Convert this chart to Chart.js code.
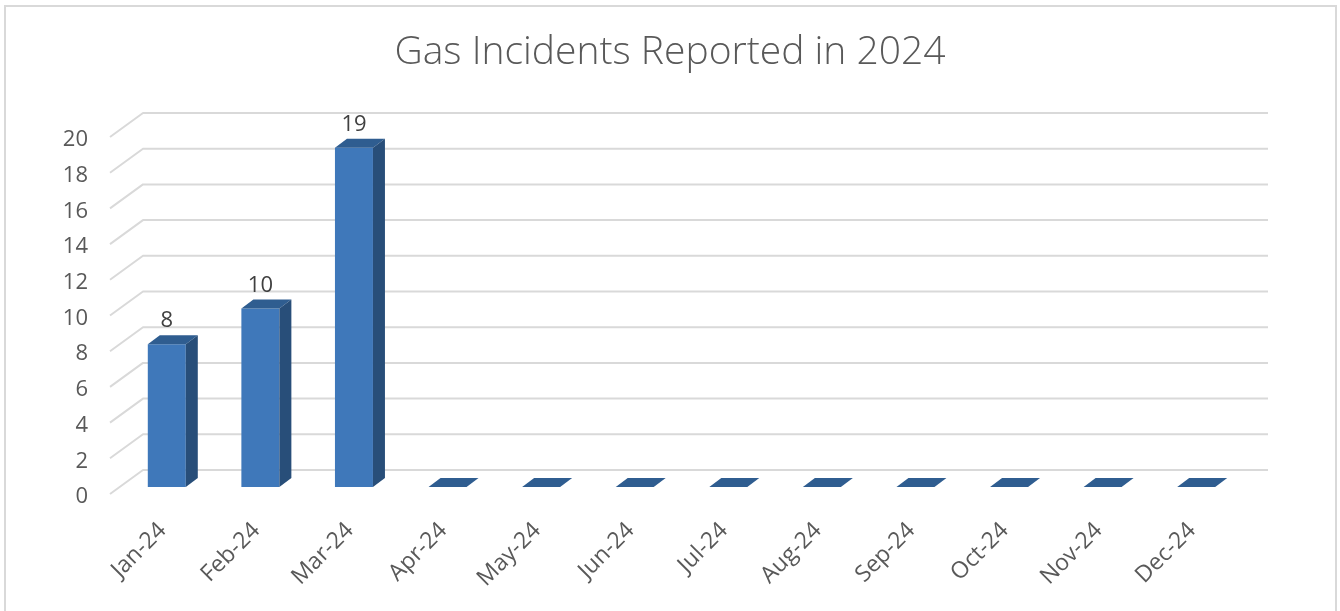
<!DOCTYPE html>
<html>
<head>
<meta charset="utf-8">
<script src="https://cdn.jsdelivr.net/npm/chart.js@4.4.1/dist/chart.umd.min.js"></script>
<style>
html,body{margin:0;padding:0;background:#fff;overflow:hidden;}
#frame{position:absolute;left:4px;top:5px;width:1333px;height:640px;border:2px solid #d9d9d9;box-sizing:border-box;}
#wrap{position:absolute;left:0;top:0;width:1340px;height:611px;}
</style>
</head>
<body>
<div id="frame"></div>
<div id="wrap"><canvas id="c" width="1340" height="611"></canvas></div>
<script>
// ---- data ----
const categories = ['Jan-24','Feb-24','Mar-24','Apr-24','May-24','Jun-24','Jul-24','Aug-24','Sep-24','Oct-24','Nov-24','Dec-24'];
const incidents = [8, 10, 19, 0, 0, 0, 0, 0, 0, 0, 0, 0];
const yMin = 0;
const yMax = 20;
const yStep = 2;
const chartTitle = 'Gas Incidents Reported in 2024';

// ---- style ----
const FONT = "'Open Sans', 'DejaVu Sans', sans-serif";
const TEXT = '#595959';
const FRONT = '#3F78BA';
const TOP = '#2F5D90';
const SIDE = '#284E79';
const GRID = '#d9d9d9';
const BAR_DX = 12, BAR_DY = 9;     // bar depth
const BACK_DX = 23, BACK_DY = 17;  // back wall offset from bar plane
const FRONT_DX = 10, FRONT_DY = 7; // floor front edge offset

const depth3d = {
  id: 'depth3d',
  beforeDatasetsDraw(chart) {
    const y = chart.scales.y, area = chart.chartArea, ctx = chart.ctx;
    ctx.save();
    ctx.strokeStyle = GRID;
    ctx.lineWidth = 2;
    ctx.lineJoin = 'round';
    y.ticks.forEach(t => {
      const py = y.getPixelForValue(t.value);
      ctx.beginPath();
      ctx.moveTo(area.left - FRONT_DX, py + FRONT_DY);
      ctx.lineTo(area.left + BACK_DX, py - BACK_DY);
      ctx.lineTo(area.right + 25, py - BACK_DY);
      ctx.stroke();
    });
    ctx.restore();
  },
  afterDatasetsDraw(chart) {
    const ctx = chart.ctx;
    const meta = chart.getDatasetMeta(0);
    const data = chart.data.datasets[0].data;
    ctx.save();
    meta.data.forEach((bar, i) => {
      const p = bar.getProps(['x', 'y', 'base', 'width'], true);
      const l = p.x - p.width / 2, r = p.x + p.width / 2;
      const top = p.y, base = p.base;
      ctx.fillStyle = TOP;
      ctx.beginPath();
      ctx.moveTo(l, top);
      ctx.lineTo(l + BAR_DX, top - BAR_DY);
      ctx.lineTo(r + BAR_DX, top - BAR_DY);
      ctx.lineTo(r, top);
      ctx.closePath();
      ctx.fill();
      if (data[i] > 0) {
        ctx.fillStyle = SIDE;
        ctx.beginPath();
        ctx.moveTo(r, top);
        ctx.lineTo(r + BAR_DX, top - BAR_DY);
        ctx.lineTo(r + BAR_DX, base - BAR_DY);
        ctx.lineTo(r, base);
        ctx.closePath();
        ctx.fill();
        ctx.fillStyle = '#404040';
        ctx.font = '22px ' + FONT;
        ctx.textAlign = 'center';
        ctx.textBaseline = 'middle';
        ctx.fillText(String(data[i]), p.x, top - 23);
      }
    });
    ctx.restore();
  }
};

new Chart(document.getElementById('c'), {
  type: 'bar',
  data: {
    labels: categories,
    datasets: [{
      label: 'Incidents',
      data: incidents,
      backgroundColor: FRONT,
      borderWidth: 0,
      barPercentage: 0.406,
      categoryPercentage: 1.0
    }]
  },
  options: {
    responsive: false,
    animation: false,
    layout: { padding: 0 },
    plugins: {
      legend: { display: false },
      tooltip: { enabled: false },
      title: {
        display: true,
        text: chartTitle,
        color: TEXT,
        font: { family: FONT, size: 39, weight: 300, lineHeight: 1.2 },
        padding: { top: 29, bottom: 54.2 }
      }
    },
    scales: {
      x: {
        grid: { display: false, drawTicks: false },
        border: { display: false },
        ticks: {
          autoSkip: false,
          minRotation: 45,
          maxRotation: 45,
          padding: 30,
          labelOffset: -4,
          color: TEXT,
          font: { family: FONT, size: 23 }
        },
        afterFit(scale) { scale.height = 124; }
      },
      y: {
        min: yMin,
        max: yMax,
        grid: { display: false, drawTicks: false },
        border: { display: false },
        ticks: {
          stepSize: yStep,
          padding: 32,
          labelOffset: 10,
          color: TEXT,
          font: { family: FONT, size: 22 }
        },
        afterFit(scale) { scale.width = 120; }
      },
      yRight: {
        position: 'right',
        display: true,
        grid: { display: false, drawTicks: false },
        border: { display: false },
        ticks: { display: false },
        afterFit(scale) { scale.width = 97; }
      }
    }
  },
  plugins: [depth3d]
});
</script>
</body>
</html>
